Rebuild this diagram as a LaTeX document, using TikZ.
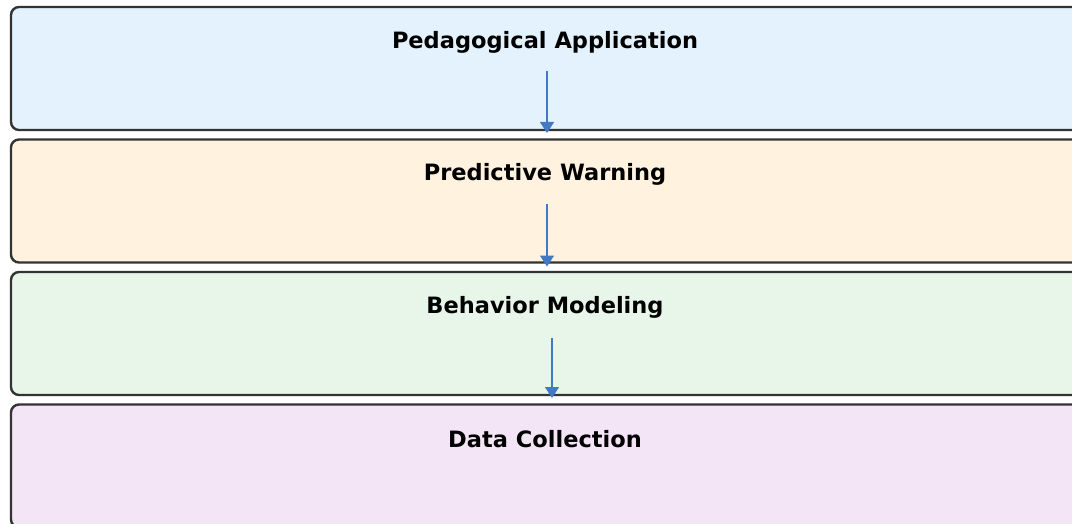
\documentclass[tikz,border=0pt]{standalone}
\usepackage{fontspec}
\setmainfont{DejaVu Sans}
\usetikzlibrary{calc, positioning, arrows.meta}

\definecolor{appfill}{HTML}{E3F2FD}
\definecolor{warnfill}{HTML}{FFF3E0}
\definecolor{modelfill}{HTML}{E8F5E9}
\definecolor{datafill}{HTML}{F3E5F5}
\definecolor{edgegray}{HTML}{333333}
\definecolor{flowblue}{HTML}{4279C4}

\tikzset{
    layer/.style={draw=edgegray, line width=2.4pt, rounded corners=8pt, rectangle,
                  minimum width=1072pt, minimum height=123pt, inner sep=0pt, outer sep=0pt, anchor=north west},
    title/.style={font=\fontsize{22.5}{27}\selectfont\bfseries, inner sep=0pt},
    flow/.style={draw=flowblue, line width=1.6pt, -{Triangle[length=11pt, width=14pt]}}
}

\begin{document}
\begin{tikzpicture}[x=1pt, y=-1pt]
                    \useasboundingbox (0,0) rectangle (1072,524);
                    \fill[white] (0,0) rectangle (1072,524);

                    \node[layer, fill=appfill] (1) at (11,7) {};
                    \node[layer, fill=warnfill] (2) [below=9.5pt of 1.south west, anchor=north west] {};
                    \node[layer, fill=modelfill] (3) [below=9.5pt of 2.south west, anchor=north west] {};
                    \node[layer, fill=datafill] (4) [below=9.5pt of 3.south west, anchor=north west] {};

                    \node[title] (11) at ($(1.north)+(-2,35)$) {Pedagogical Application};
                    \node[title] (21) at ($(2.north)+(-2,35)$) {Predictive Warning};
                    \node[title] (31) at ($(3.north)+(-2,35)$) {Behavior Modeling};
                    \node[title] (41) at ($(4.north)+(-2,35)$) {Data Collection};

                    \coordinate (12) at ($(1.north)+(0,64)$);
                    \coordinate (22) at ($(2.north)+(0,65)$);
                    \coordinate (32) at ($(3.north)+(5,66)$);

                    \draw[flow] (12) -- ($(12 |- 1.south)+(0,3)$);
                    \draw[flow] (22) -- ($(22 |- 2.south)+(0,4)$);
                    \draw[flow] (32) -- ($(32 |- 3.south)+(0,3)$);
                \end{tikzpicture}
\end{document}
